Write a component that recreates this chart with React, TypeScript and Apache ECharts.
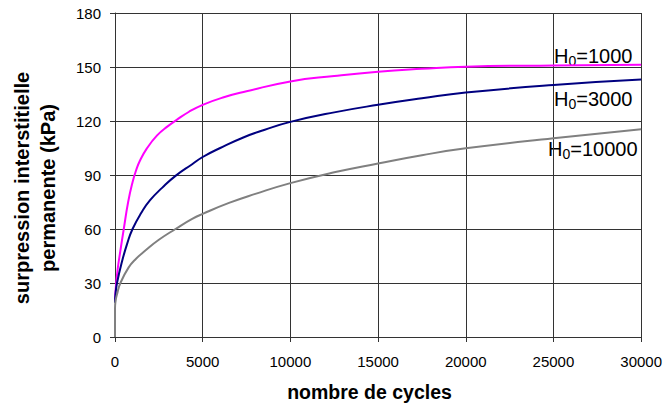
import React, { useEffect, useRef } from "react";
import * as echarts from "echarts";

const xTicks = { min: 0, max: 30000, interval: 5000 };
const yTicks = { min: 0, max: 180, interval: 30 };

const h1000: [number, number][] = [
  [0, 20], [50, 28], [150, 37.5], [300, 47.5], [500, 60], [750, 75], [1000, 86],
  [1200, 92.5], [1400, 97.5], [1800, 104.5], [2400, 112], [3000, 117], [3500, 120.5],
  [4200, 125], [5000, 129], [6200, 133.2], [7500, 136.5], [10000, 142], [12500, 145],
  [15000, 147.4], [17500, 149], [20000, 150.2], [25000, 150.9], [30000, 151.2],
];
const h3000: [number, number][] = [
  [0, 19], [30, 24], [115, 30], [400, 42], [700, 52], [1000, 60], [1500, 69],
  [2000, 76], [2700, 83], [3450, 89.5], [4400, 96], [5000, 100], [6000, 105],
  [7350, 111], [8500, 115], [10000, 119.5], [12500, 124.8], [15000, 129],
  [17500, 132.6], [20000, 135.8], [25000, 140], [30000, 143],
];
const h10000: [number, number][] = [
  [0, 0], [1, 16], [30, 20], [115, 23.7], [300, 29.8], [780, 38.7], [1200, 43.5],
  [1730, 48], [2500, 54], [3450, 60], [4400, 65.6], [5000, 68.4], [6500, 74.5],
  [8000, 79.5], [10000, 85.5], [12500, 91.5], [15000, 96.4], [17500, 101],
  [20000, 104.8], [25000, 110.4], [30000, 115.4],
];

const seriesNames = ["H0=1000", "H0=3000", "H0=10000"];
const seriesColors = ["#FF00FF", "#000080", "#808080"];
const labelValues = ["1000", "3000", "10000"];
const xName = "nombre de cycles";
const yName = "surpression interstitielle\npermanente (kPa)";

const FONT = '"Liberation Sans", Arial, sans-serif';

export default function App() {
  const ref = useRef<HTMLDivElement>(null);
  useEffect(() => {
    if (!ref.current) return;
    const chart = echarts.init(ref.current, undefined, { renderer: "svg" });
    const data = [h1000, h3000, h10000];
    const labelPos = [
      { x: 554, y: 56 },
      { x: 554, y: 99 },
      { x: 548, y: 149 },
    ];
    chart.setOption({
      animation: false,
      backgroundColor: "#fff",
      grid: { left: 115, right: 23, top: 13, bottom: 68, containLabel: false },
      xAxis: {
        type: "value",
        min: xTicks.min,
        max: xTicks.max,
        interval: xTicks.interval,
        axisLine: { show: true, lineStyle: { color: "#333", width: 1 } },
        axisTick: { show: true, length: 5, inside: false, lineStyle: { color: "#333" } },
        axisLabel: {
          fontSize: 15,
          color: "#000",
          fontFamily: FONT,
          margin: 17,
          formatter: (v: number) => String(v),
        },
        splitLine: { show: true, lineStyle: { color: "#333", width: 1 } },
      },
      yAxis: {
        type: "value",
        min: yTicks.min,
        max: yTicks.max,
        interval: yTicks.interval,
        axisLine: { show: true, lineStyle: { color: "#333", width: 1 } },
        axisTick: { show: true, length: 5, inside: false, lineStyle: { color: "#333" } },
        axisLabel: {
          fontSize: 15,
          color: "#000",
          fontFamily: FONT,
          margin: 14,
          formatter: (v: number) => String(v),
        },
        splitLine: { show: true, lineStyle: { color: "#333", width: 1 } },
      },
      series: data.map((d, i) => ({
        name: seriesNames[i],
        type: "line",
        data: d,
        showSymbol: false,
        smooth: 0.5,
        lineStyle: { color: seriesColors[i], width: 2 },
        itemStyle: { color: seriesColors[i] },
      })),
      graphic: [
        {
          type: "text",
          x: 369.5,
          y: 392,
          style: {
            text: xName,
            font: `bold 19.5px ${FONT}`,
            fill: "#000",
            textAlign: "center",
            textVerticalAlign: "middle",
          },
        },
        {
          type: "text",
          x: 35,
          y: 188,
          rotation: Math.PI / 2,
          style: {
            text: yName,
            font: `bold 20px ${FONT}`,
            fill: "#000",
            lineHeight: 26,
            textAlign: "center",
            textVerticalAlign: "middle",
          },
        },
        ...labelValues.map((v, i) => ({
          type: "text",
          x: labelPos[i].x,
          y: labelPos[i].y,
          style: {
            text: `{a|H}{s|0}{a|=${v}}`,
            textAlign: "left",
            textVerticalAlign: "middle",
            fill: "#000",
            rich: {
              a: { fontSize: 20, fontFamily: FONT, lineHeight: 24, fill: "#000" },
              s: { fontSize: 14, fontFamily: FONT, lineHeight: 14, verticalAlign: "bottom", fill: "#000" },
            },
          },
        })),
      ],
    });
    return () => chart.dispose();
  }, []);
  return (
    <div
      ref={ref}
      style={{ position: "fixed", left: 0, top: 0, width: 665, height: 405, background: "#fff" }}
    />
  );
}
